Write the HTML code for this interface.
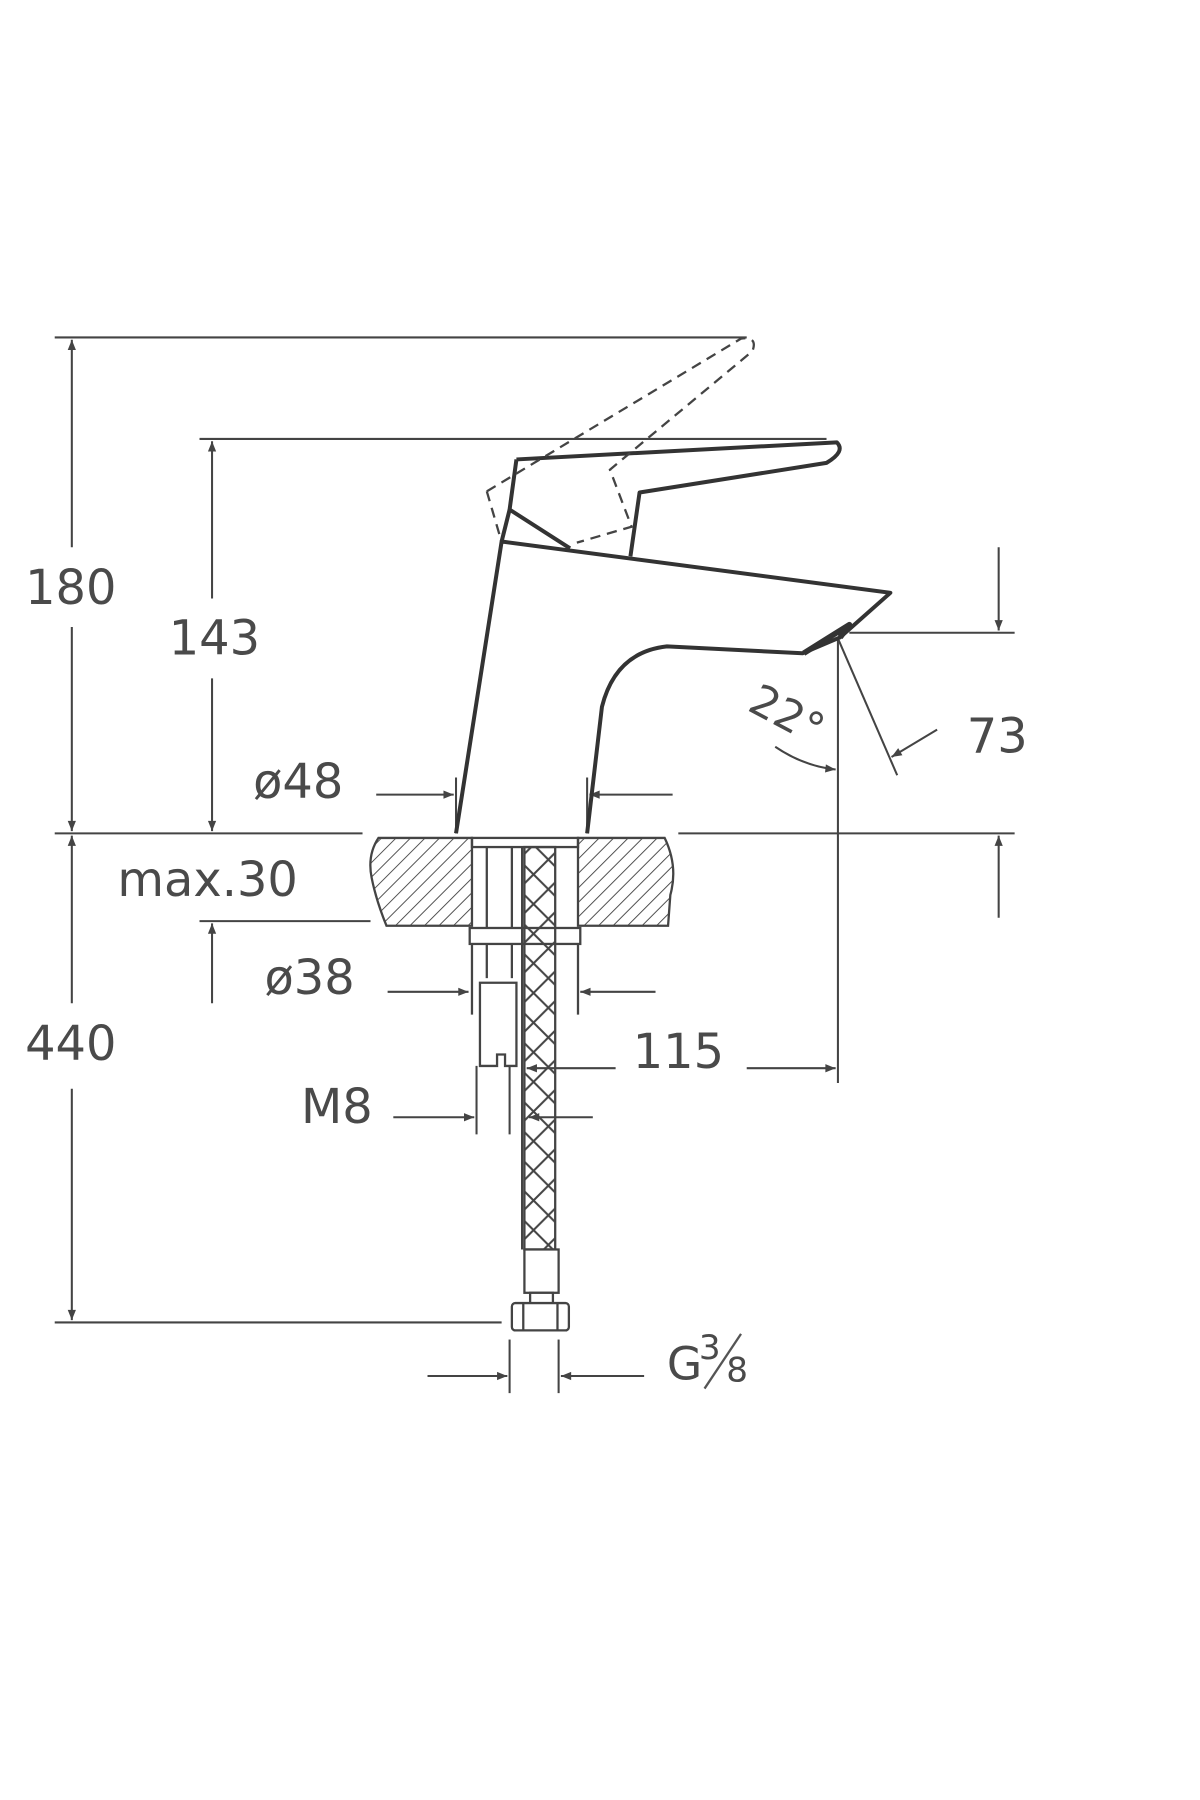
<!DOCTYPE html>
<html><head><meta charset="utf-8"><style>
html,body{margin:0;padding:0;background:#fff;}
svg{display:block}
text{font-family:"DejaVu Sans","Liberation Sans",sans-serif;fill:#4a4a4a;font-weight:normal}
</style></head><body>
<svg width="1200" height="1800" viewBox="0 0 1052.6 1578.9" xmlns="http://www.w3.org/2000/svg">
<defs>
<marker id="a" viewBox="0 0 10 10" refX="10" refY="5" markerWidth="20" markerHeight="9" markerUnits="userSpaceOnUse" orient="auto"><path d="M0,1 L10,5 L0,9 z" fill="#444"/></marker>
<pattern id="h" width="9" height="9" patternUnits="userSpaceOnUse" patternTransform="rotate(45)"><line x1="0" y1="0" x2="0" y2="9" stroke="#444" stroke-width="1.6"/></pattern>
<pattern id="hh" width="26" height="26" patternUnits="userSpaceOnUse"><path d="M0,13 L13,0 M13,26 L26,13 M0,13 L13,26 M13,0 L26,13" stroke="#444" stroke-width="1.8" fill="none"/></pattern>
</defs>
<g stroke="#444" stroke-width="1.8" fill="none">
<line x1="48" y1="296" x2="655" y2="296"/>
<line x1="175" y1="385" x2="725" y2="385"/>
<line x1="48" y1="731" x2="318" y2="731"/>
<line x1="595" y1="731" x2="890" y2="731"/>
<line x1="48" y1="1160" x2="440" y2="1160"/>
<line x1="175" y1="808" x2="325" y2="808"/>
<line x1="745" y1="555" x2="890" y2="555"/>
<line x1="735" y1="560" x2="735" y2="950"/>
<line x1="63" y1="480" x2="63" y2="298" marker-end="url(#a)"/>
<line x1="63" y1="550" x2="63" y2="729" marker-end="url(#a)"/>
<line x1="63" y1="880" x2="63" y2="733" marker-end="url(#a)"/>
<line x1="63" y1="955" x2="63" y2="1158" marker-end="url(#a)"/>
<line x1="186" y1="525" x2="186" y2="387" marker-end="url(#a)"/>
<line x1="186" y1="595" x2="186" y2="729" marker-end="url(#a)"/>
<line x1="186" y1="880" x2="186" y2="810" marker-end="url(#a)"/>
<line x1="876" y1="480" x2="876" y2="553" marker-end="url(#a)"/>
<line x1="876" y1="805" x2="876" y2="733" marker-end="url(#a)"/>
<line x1="400" y1="682" x2="400" y2="731"/>
<line x1="515" y1="682" x2="515" y2="731"/>
<line x1="330" y1="697" x2="398" y2="697" marker-end="url(#a)"/>
<line x1="590" y1="697" x2="517" y2="697" marker-end="url(#a)"/>
<line x1="340" y1="870" x2="411" y2="870" marker-end="url(#a)"/>
<line x1="575" y1="870" x2="509" y2="870" marker-end="url(#a)"/>
<line x1="540" y1="937" x2="462" y2="937" marker-end="url(#a)"/>
<line x1="655" y1="937" x2="733" y2="937" marker-end="url(#a)"/>
<line x1="418" y1="935" x2="418" y2="995"/>
<line x1="447" y1="935" x2="447" y2="995"/>
<line x1="345" y1="980" x2="416" y2="980" marker-end="url(#a)"/>
<line x1="520" y1="980" x2="464" y2="980" marker-end="url(#a)"/>
<line x1="447" y1="1175" x2="447" y2="1222"/>
<line x1="490" y1="1175" x2="490" y2="1222"/>
<line x1="375" y1="1207" x2="445" y2="1207" marker-end="url(#a)"/>
<line x1="565" y1="1207" x2="492" y2="1207" marker-end="url(#a)"/>
<line x1="735" y1="560" x2="787" y2="680"/>
<line x1="822" y1="640" x2="782" y2="664" marker-end="url(#a)"/>
<path d="M680,655 Q705,672 733,675" marker-end="url(#a)"/>
</g>
<g stroke="#333" stroke-width="3.5" fill="none" stroke-linejoin="round">
<path d="M400,731 L440,475 L781,520 L737,559 L704,573 L585,567 Q540,572 528,620 L515,731"/>
<path d="M453,403 L734,388 Q742,396 725,406 L561,432 L553,488"/>
<path d="M453,403 L447,447 L500,481"/>
<path d="M447,447 L440,475"/>
<path d="M737,559 L745,548 L705,573" stroke-width="5"/>
</g>
<g stroke="#444" stroke-width="2" fill="none" stroke-dasharray="9,6">
<path d="M427,431 L439,472 M427,431 L650,297 Q665,295 660,308 L535,412 L554,462 L506,476"/>
</g>
<g stroke="#444" stroke-width="2">
<path d="M332,735 L414,735 L414,812 L339,812 Q330,790 326,770 Q322,750 332,735 z" fill="url(#h)"/>
<path d="M507,735 L583,735 Q595,760 588,785 L586,812 L507,812 z" fill="url(#h)"/>
<rect x="414" y="735" width="93" height="8" fill="none"/>
<rect x="412" y="814" width="97" height="14" fill="none"/>
<line x1="427" y1="743" x2="427" y2="814"/>
<line x1="449" y1="743" x2="449" y2="814"/>
<line x1="414" y1="828" x2="414" y2="890"/>
<line x1="507" y1="828" x2="507" y2="890"/>
<line x1="427" y1="828" x2="427" y2="858"/>
<line x1="449" y1="828" x2="449" y2="858"/>
<path d="M421,935 L421,862 L453,862 L453,935 L443,935 L443,925 L436,925 L436,935 z" fill="none"/>
<rect x="460" y="743" width="27" height="353" fill="url(#hh)"/>
<line x1="458" y1="743" x2="458" y2="1096"/>
<rect x="460" y="1096" width="30" height="38" fill="#fff"/>
<rect x="465" y="1134" width="20" height="10" fill="#fff"/>
<rect x="449" y="1143" width="50" height="24" rx="3" fill="#fff"/>
<line x1="459" y1="1143" x2="459" y2="1167"/>
<line x1="489" y1="1143" x2="489" y2="1167"/>
</g>
<g font-size="42">
<text x="22" y="530">180</text>
<text x="148" y="574">143</text>
<text x="22" y="930">440</text>
<text x="103" y="786">max.30</text>
<text x="222" y="700">ø48</text>
<text x="232" y="872">ø38</text>
<text x="555" y="937">115</text>
<text x="264" y="985">M8</text>
<text x="848" y="660">73</text>
<text x="655" y="640" font-size="38" transform="rotate(28 690 630)">22°</text>
<text x="585" y="1210" font-size="40">G</text>
<text x="613" y="1192" font-size="30">3</text>
<text x="637" y="1212" font-size="30">8</text>
</g>
<line x1="618" y1="1218" x2="650" y2="1170" stroke="#555" stroke-width="2"/>
</svg>
</body></html>
